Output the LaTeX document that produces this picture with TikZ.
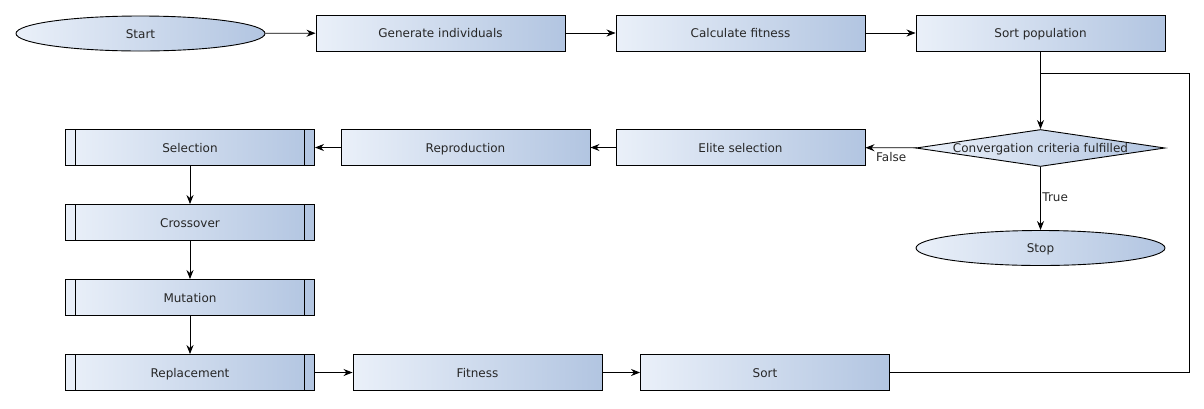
\documentclass[tikz,border=0pt]{standalone}
\usepackage{fontspec}
\setmainfont{DejaVu Sans}
\usetikzlibrary{shapes.geometric,arrows.meta}
\definecolor{gl}{RGB}{234,240,249}
\definecolor{gr}{RGB}{178,197,225}
\tikzset{
  base/.style={draw=black, line width=0.9pt, left color=gl, right color=gr, inner sep=0pt,
    font=\fontsize{12}{14}\selectfont, text=black!85, text height=9pt, text depth=0pt},
  procbox/.style={base, rectangle, minimum width=249pt, minimum height=36pt},
  subbox/.style={procbox, path picture={
      \draw[line width=0.9pt] ([xshift=10pt]path picture bounding box.north west) -- ([xshift=10pt]path picture bounding box.south west);
      \draw[line width=0.9pt] ([xshift=-10pt]path picture bounding box.north east) -- ([xshift=-10pt]path picture bounding box.south east);}},
  term/.style={base, ellipse, minimum width=249pt, minimum height=35pt},
  decide/.style={base, diamond, minimum width=249pt, minimum height=37pt, aspect=6.7},
  conn/.style={line width=0.9pt, -{Stealth[length=9pt,width=7pt]}},
  plain/.style={line width=0.9pt},
  lbl/.style={font=\fontsize{12}{14}\selectfont, text=black!85, inner sep=1.5pt, text height=9pt, text depth=0pt}
}
\begin{document}
\begin{tikzpicture}[x=1pt,y=-1pt]
\useasboundingbox (0,0) rectangle (1204,408);
\node[term] (start) at (140.5,33.5) {Start};
\node[procbox] (gen) at (440.5,33) {Generate individuals};
\node[procbox] (calc) at (740.5,33) {Calculate fitness};
\node[procbox] (sortpop) at (1040.5,33) {Sort population};
\node[decide, label={[lbl, inner sep=0pt]center:Convergation criteria fulfilled}] (conv) at (1040.5,148) {};
\node[procbox] (elite) at (740.5,147.5) {Elite selection};
\node[procbox] (repro) at (465.5,147.5) {Reproduction};
\node[subbox] (sel) at (190,147.5) {Selection};
\node[subbox] (cross) at (190,222.5) {Crossover};
\node[subbox] (mut) at (190,297.5) {Mutation};
\node[subbox] (repl) at (190,372.5) {Replacement};
\node[procbox] (fit) at (477.5,372.5) {Fitness};
\node[procbox] (sort) at (765,372.5) {Sort};
\node[term] (stop) at (1040.5,248) {Stop};
\coordinate (loopc) at (1189,73);

\draw[conn] (start) -- (gen);
\draw[conn] (gen) -- (calc);
\draw[conn] (calc) -- (sortpop);
\draw[conn] (sortpop) -- (conv);
\draw[conn] (conv) -- node[lbl, below, pos=0.5, yshift=-3pt] {False} (elite);
\draw[conn] (elite) -- (repro);
\draw[conn] (repro) -- (sel);
\draw[conn] (sel) -- (cross);
\draw[conn] (cross) -- (mut);
\draw[conn] (mut) -- (repl);
\draw[conn] (repl) -- (fit);
\draw[conn] (fit) -- (sort);
\draw[conn] (conv) -- node[lbl, right, pos=0.48] {True} (stop);
\draw[plain] (sort) -| (loopc) -- (loopc -| sortpop.south);
\end{tikzpicture}
\end{document}
